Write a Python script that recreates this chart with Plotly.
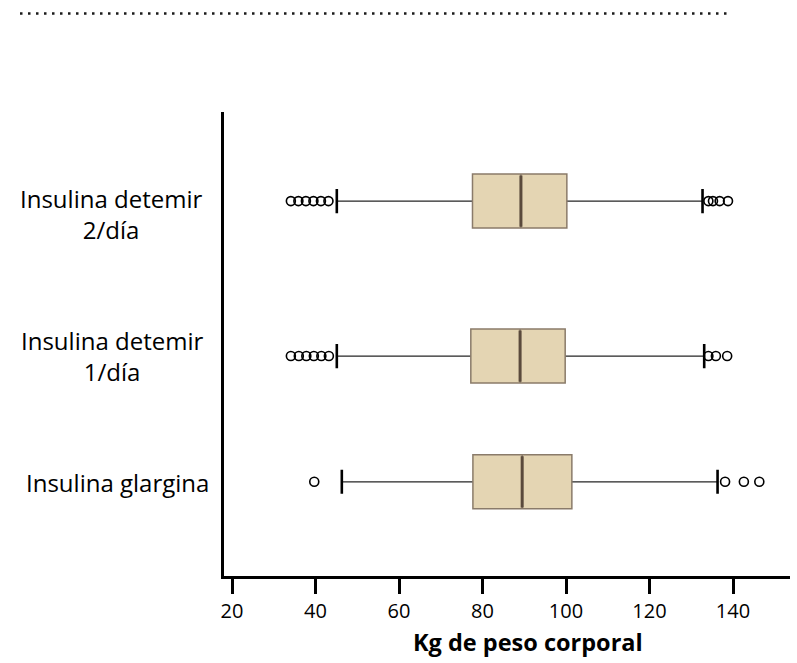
import plotly.graph_objects as go

# Treatment groups, top to bottom
groups = ["Insulina detemir<br>2/día", "Insulina detemir<br>1/día", "Insulina glargina"]

# Five-number summaries (kg)
q1 = [77.6, 77.2, 77.7]
median = [89.2, 89.0, 89.5]
q3 = [100.2, 99.8, 101.4]
lower_whisker = [45.1, 45.1, 46.3]
upper_whisker = [132.7, 133.1, 136.3]

# Individual outlying values (kg)
outliers = [
    [34.1, 35.9, 37.7, 39.5, 41.3, 43.1, 134.1, 135.2, 136.8, 138.8],
    [34.1, 36.0, 37.8, 39.6, 41.4, 43.2, 134.1, 135.9, 138.6],
    [39.7, 138.1, 142.6, 146.3],
]

x_ticks = [20, 40, 60, 80, 100, 120, 140]
x_title = "Kg de peso corporal"

# Layout constants: row centres on a 0-1 vertical axis, box and cap heights
ROW_Y = [0.808, 0.474, 0.203]
LABEL_Y = [0.7795, 0.4745, 0.201]
LABEL_CX = [110.5, 111.5, 117.0]   # label centres in pixels
BOX_H = 0.1164
CAP_H = 0.052

L, R, T, B = 224, 7, 112, 87
W, H = 797, 663
PW = W - L - R
PH = H - T - B

FILL = "#E4D5B3"
EDGE = "#8A7B6A"
MED = "#5A4A3C"
FONT = "Open Sans"

fig = go.Figure()

# whiskers (from the median outwards; the box body hides the inner part)
fig.add_trace(go.Box(
    y=ROW_Y, q1=median, median=median, q3=median,
    lowerfence=lower_whisker, upperfence=upper_whisker,
    orientation="h", width=BOX_H, whiskerwidth=0,
    line=dict(color="#262626", width=1.3), fillcolor="rgba(0,0,0,0)",
    boxpoints=False, hoverinfo="skip",
))

# whisker caps
ends = lower_whisker + upper_whisker
fig.add_trace(go.Box(
    y=ROW_Y + ROW_Y, q1=ends, median=ends, q3=ends,
    lowerfence=ends, upperfence=ends,
    orientation="h", width=CAP_H, whiskerwidth=0,
    line=dict(color="#000000", width=2.6), fillcolor="rgba(0,0,0,0)",
    boxpoints=False, hoverinfo="skip",
))

# box bodies
fig.add_trace(go.Box(
    y=ROW_Y, q1=q1, median=median, q3=q3,
    lowerfence=q1, upperfence=q3,
    orientation="h", width=BOX_H, whiskerwidth=0,
    line=dict(color=EDGE, width=1.5), fillcolor=FILL,
    boxpoints=False,
))

# medians
fig.add_trace(go.Box(
    y=ROW_Y, q1=median, median=median, q3=median,
    lowerfence=median, upperfence=median,
    orientation="h", width=BOX_H - 0.006, whiskerwidth=0,
    line=dict(color=MED, width=3), fillcolor="rgba(0,0,0,0)",
    boxpoints=False, hoverinfo="skip",
))

# outliers
ox, oy = [], []
for vals, yy in zip(outliers, ROW_Y):
    ox += vals
    oy += [yy] * len(vals)
fig.add_trace(go.Scatter(
    x=ox, y=oy, mode="markers",
    marker=dict(symbol="circle-open", size=9, color="#000000", line=dict(width=1.6)),
))

annotations = []
for text, yy, cx in zip(groups, LABEL_Y, LABEL_CX):
    annotations.append(dict(
        text=text, x=(cx - L) / PW, xref="paper", y=yy, yref="y",
        xanchor="center", yanchor="middle", align="center", showarrow=False,
        font=dict(family=FONT, size=24, color="#000000"),
    ))
annotations.append(dict(
    text="<b>%s</b>" % x_title, x=(528 - L) / PW, xref="paper",
    y=(H - B - 642) / PH, yref="paper", xanchor="center", yanchor="middle",
    showarrow=False, font=dict(family=FONT, size=23.5, color="#000000"),
))

fig.update_layout(
    width=W, height=H,
    margin=dict(l=L, r=R, t=T, b=B, pad=0),
    paper_bgcolor="white", plot_bgcolor="white",
    showlegend=False, boxmode="overlay",
    annotations=annotations,
    shapes=[dict(
        type="line", xref="paper", yref="paper",
        x0=(20 - L) / PW, x1=(731 - L) / PW,
        y0=(H - B - 13.5) / PH, y1=(H - B - 13.5) / PH,
        line=dict(color="#1a1a1a", width=2.5, dash="2.5px,5.5px"),
    )],
    xaxis=dict(
        range=[18.08, 153.65], tickvals=x_ticks, ticks="outside",
        ticklen=15, tickwidth=3, tickcolor="#000000",
        showline=True, linewidth=3, linecolor="#000000",
        showgrid=False, zeroline=False,
        tickfont=dict(family=FONT, size=20, color="#000000"),
    ),
    yaxis=dict(
        range=[0, 1], showline=True, linewidth=3, linecolor="#000000",
        showticklabels=False, ticks="", showgrid=False, zeroline=False,
    ),
)

fig.write_html("out.html")
